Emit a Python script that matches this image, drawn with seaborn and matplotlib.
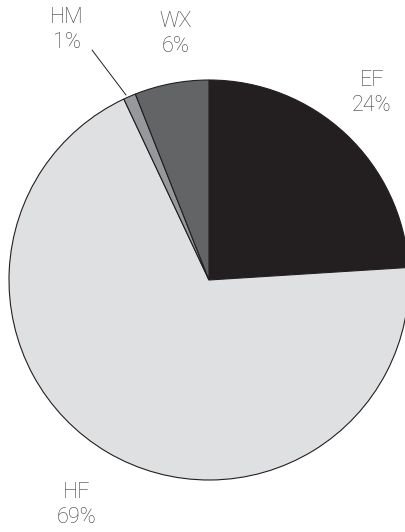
import seaborn as sns
import matplotlib.pyplot as plt

# slice data, clockwise from 12 o'clock
labels = ["EF", "HF", "HM", "WX"]
shares = [24, 69, 1, 6]
colors = ["#231f20", "#dfe0e2", "#97989b", "#636466"]

sns.set_theme(style="white")
plt.rcParams['font.family'] = ['Roboto', 'DejaVu Sans']

fig = plt.figure(figsize=(4.06, 5.32), dpi=100)
ax = fig.add_axes([9 / 406, 52 / 532, 400 / 406, 400 / 532])

wedges, _ = ax.pie(shares, colors=colors, startangle=90, counterclock=False,
                   radius=1, wedgeprops=dict(edgecolor="#231f20", linewidth=0.8))
for w in wedges:
    w.set_clip_on(False)
ax.set_xlim(-1, 1)
ax.set_ylim(-1, 1)
ax.set_aspect('equal')
ax.axis('off')

# label placement (data coords)
label_pos = {"EF": (0.815, 0.935), "HF": (-0.66, -1.125),
             "HM": (-0.71, 1.25), "WX": (-0.165, 1.23)}
for lab, val in zip(labels, shares):
    x, y = label_pos[lab]
    ax.text(x, y, "%s\n%d%%" % (lab, val), ha='center', va='center',
            fontsize=15.5, color="#3c3c3c", fontweight='light',
            linespacing=1.25, clip_on=False)

# leader line for the tiny HM slice
ax.plot([-0.585, -0.415], [1.15, 0.925], color="#231f20", lw=0.7, clip_on=False)

fig.savefig("out.png", dpi=100)
